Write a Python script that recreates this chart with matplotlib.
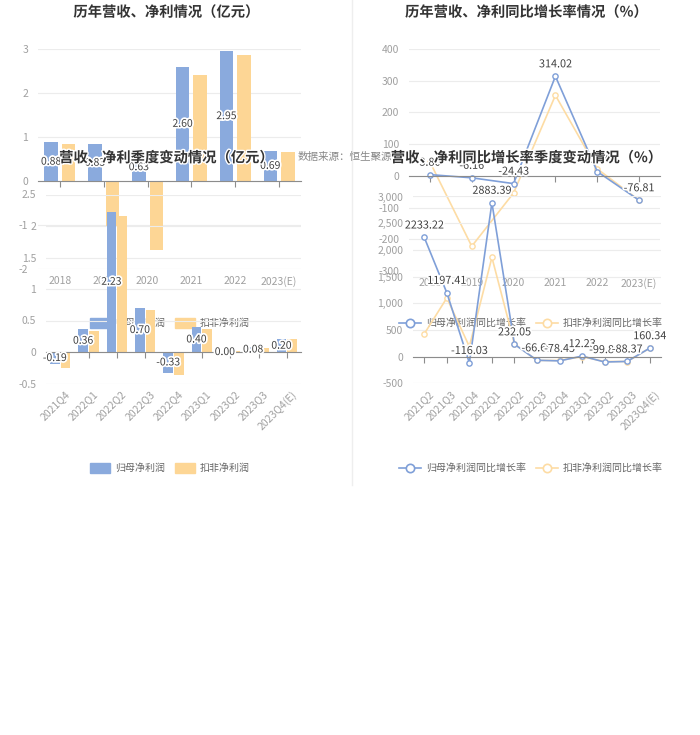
import numpy as np
import matplotlib
matplotlib.use('Agg')
import matplotlib.pyplot as plt
import matplotlib.patheffects as pe
from matplotlib.patches import Patch
from matplotlib.lines import Line2D

plt.rcParams['font.family'] = ['Noto Sans CJK SC', 'DejaVu Sans']

# annual profit (亿元)
years = ['2018', '2019', '2020', '2021', '2022', '2023(E)']
np_year = [0.88, 0.83, 0.63, 2.60, 2.95, 0.69]
kf_year = [0.85, -1.04, -1.57, 2.42, 2.87, 0.65]

# annual growth (%)
np_year_g = [3.86, -6.16, -24.43, 314.02, 13.46, -76.81]
kf_year_g = [44, -222, -54, 254, 22, -77]

# quarterly profit (亿元)
quarters = ['2021Q4', '2022Q1', '2022Q2', '2022Q3', '2022Q4',
            '2023Q1', '2023Q2', '2023Q3', '2023Q4(E)']
np_q = [-0.19, 0.36, 2.23, 0.70, -0.33, 0.40, 0.00, 0.08, 0.20]
kf_q = [-0.26, 0.33, 2.16, 0.67, -0.37, 0.37, 0.01, 0.07, 0.20]

# quarterly growth (%)
quarters_g = ['2021Q2', '2021Q3', '2021Q4', '2022Q1', '2022Q2', '2022Q3',
              '2022Q4', '2023Q1', '2023Q2', '2023Q3', '2023Q4(E)']
np_q_g = [2233.22, 1197.41, -116.03, 2883.39, 232.05, -66.69,
          -78.45, 12.23, -99.86, -88.37, 160.34]
kf_q_g = [428, 1100, 190, 1860, 240, -70, -70, 0, -90, -90, 160]

BLUE = '#8aaadd'
ORANGE = '#fdd695'
BLUE_L = '#7f9fd8'
ORANGE_L = '#fddca4'
GRAY = '#a0a0a0'
halo = [pe.withStroke(linewidth=2.5, foreground='white')]

W, H = 700, 735
fig = plt.figure(figsize=(W / 100, H / 100), dpi=100)


def px_axes(x0, y0, x1, y1):
    ax = fig.add_axes([x0 / W, 1 - y1 / H, (x1 - x0) / W, (y1 - y0) / H])
    ax.patch.set_alpha(0)
    for s in ax.spines.values():
        s.set_visible(False)
    return ax


def style(ax, cats, ylim, yticks, ylabels, rot):
    n = len(cats)
    ax.set_xlim(-0.5, n - 0.5)
    ax.set_ylim(*ylim)
    ax.set_yticks(yticks, ylabels)
    ax.tick_params(axis='y', length=0, labelsize=7.5, labelcolor=GRAY, pad=7)
    ax.grid(axis='y', color='#ececec', lw=0.8)
    ax.set_axisbelow(True)
    sp = ax.spines['bottom']
    sp.set_visible(True)
    sp.set_position(('data', 0))
    sp.set_color('#8c8c8c')
    ax.set_xticks(range(n))
    ax.tick_params(axis='x', length=4, color='#8c8c8c', labelbottom=False)
    for i, c in enumerate(cats):
        if rot:
            ax.annotate(c, (i, 0), xycoords=ax.get_xaxis_transform(),
                        xytext=(3, -4), textcoords='offset points',
                        ha='right', va='top', rotation=45, rotation_mode='anchor',
                        fontsize=7.5, color=GRAY)
        else:
            ax.annotate(c, (i, 0), xycoords=ax.get_xaxis_transform(),
                        xytext=(0, -5), textcoords='offset points',
                        ha='center', va='top', fontsize=7.5, color=GRAY)


def bar_chart(ax, cats, a, b, off, w, legend_y):
    x = np.arange(len(cats))
    ax.bar(x - off, a, width=w, color=BLUE, zorder=2)
    ax.bar(x + off, b, width=w, color=ORANGE, zorder=2)
    for xi, v in zip(x, a):
        ax.text(xi - off, v / 2, f'{v:.2f}', ha='center', va='center',
                fontsize=7.5, color='#404040', path_effects=halo, zorder=3)
    handles = [Patch(color=BLUE), Patch(color=ORANGE)]
    ax.legend(handles, ['归母净利润', '扣非净利润'], loc='center',
              bbox_to_anchor=(170 / W, 1 - legend_y / H), bbox_transform=fig.transFigure,
              ncol=2, frameon=False, fontsize=7.2, handlelength=2.0, handleheight=1.2,
              handletextpad=0.5, columnspacing=1.0, labelcolor='#666666')


def line_chart(ax, cats, a, b, legend_y):
    x = np.arange(len(cats))
    ax.plot(x, b, color=ORANGE_L, lw=1.2, marker='o', ms=3.8, mfc='white',
            mec=ORANGE_L, mew=1.0, zorder=2)
    ax.plot(x, a, color=BLUE_L, lw=1.2, marker='o', ms=3.8, mfc='white',
            mec=BLUE_L, mew=1.0, zorder=2)
    for xi, v in zip(x, a):
        ax.annotate(f'{v:.2f}', (xi, v), xytext=(0, 5), textcoords='offset points',
                    ha='center', va='bottom', fontsize=7.8, color='#404040',
                    path_effects=halo, zorder=3)
    handles = [Line2D([], [], color=BLUE_L, lw=1.2, marker='o', ms=6, mfc='white', mew=1.2),
               Line2D([], [], color=ORANGE_L, lw=1.2, marker='o', ms=6, mfc='white', mew=1.2)]
    ax.legend(handles, ['归母净利润同比增长率', '扣非净利润同比增长率'], loc='center',
              bbox_to_anchor=(531 / W, 1 - legend_y / H), bbox_transform=fig.transFigure,
              ncol=2, frameon=False, fontsize=7.2, handlelength=2.2,
              handletextpad=0.5, columnspacing=1.0, labelcolor='#666666')


# separator line between the two columns
fig.add_artist(Line2D([352 / W, 352 / W], [1 - 485 / H, 1.0], color='#eeeeee', lw=1))

# top-left: annual profit
ax1 = px_axes(38, 49, 301, 269)
style(ax1, years, (-2, 3), range(-2, 4), [str(v) for v in range(-2, 4)], False)
bar_chart(ax1, years, np_year, kf_year, 0.2, 0.31, 323)

# top-right: annual growth
ax2 = px_axes(409, 49, 660, 271)
style(ax2, years, (-300, 400), range(-300, 500, 100),
      [str(v) for v in range(-300, 500, 100)], False)
line_chart(ax2, years, np_year_g, kf_year_g, 323)

# bottom-left: quarterly profit
ax3 = px_axes(46, 194.5, 301, 383.5)
qt = [-0.5, 0, 0.5, 1, 1.5, 2, 2.5]
style(ax3, quarters, (-0.5, 2.5), qt, [f'{v:g}' for v in qt], True)
bar_chart(ax3, quarters, np_q, kf_q, 0.19, 0.34, 468)

# bottom-right: quarterly growth
ax4 = px_axes(413, 196.5, 661, 383.4)
gt = list(range(-500, 3500, 500))
style(ax4, quarters_g, (-500, 3000), gt, [f'{v:,}' for v in gt], True)
line_chart(ax4, quarters_g, np_q_g, kf_q_g, 468)

# titles and source
fig.text(298 / W, 1 - 157 / H, '数据来源：恒生聚源', fontsize=7.6, color='#888888',
         ha='left', va='center')
title_kw = dict(fontsize=10.3, fontweight='bold', color='#333333', ha='center',
                va='center', path_effects=[pe.withStroke(linewidth=2, foreground='white')])
fig.text(166 / W, 1 - 12.5 / H, '历年营收、净利情况（亿元）', **title_kw)
fig.text(526 / W, 1 - 12.5 / H, '历年营收、净利同比增长率情况（%）', **title_kw)
fig.text(166 / W, 1 - 158 / H, '营收、净利季度变动情况（亿元）', **title_kw)
fig.text(526 / W, 1 - 158 / H, '营收、净利同比增长率季度变动情况（%）', **title_kw)

fig.savefig('out.png', dpi=100, facecolor='white')
